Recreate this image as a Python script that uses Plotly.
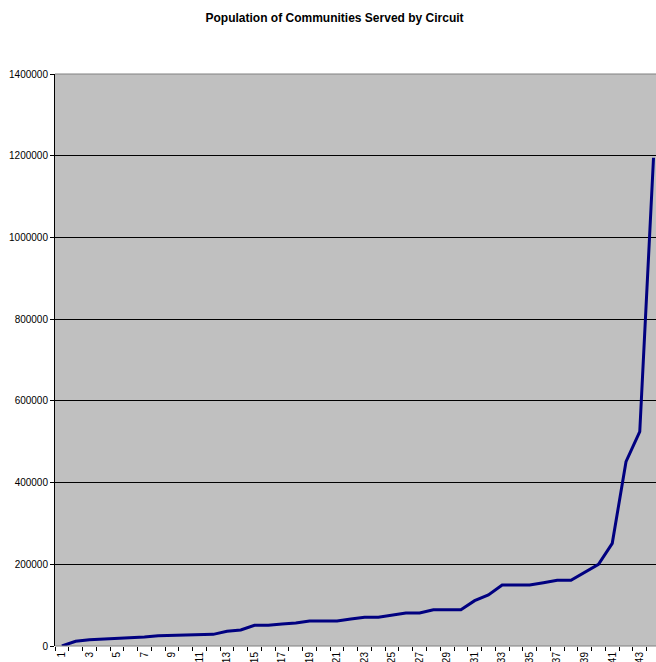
import plotly.graph_objects as go

circuits = list(range(1, 45))
population = [0, 11400, 15500, 17100, 17100, 20400, 22000, 25300, 26000, 28000,
              28500, 28500, 35900, 39200, 50600, 50600, 53900, 56300, 61200, 61200,
              61200, 66000, 70200, 70200, 75500, 80800, 80800, 88900, 88900, 88900,
              110900, 124800, 149300, 149300, 149300, 155000, 160800, 160800, 179500, 200000,
              251300, 451000, 524500, 1195000]
x_tick_vals = list(range(1, 45, 2))
y_tick_vals = list(range(0, 1400001, 200000))

fig = go.Figure()
fig.add_trace(go.Scatter(x=circuits, y=population, mode="lines",
                         line=dict(color="#000080", width=3), cliponaxis=True))

fig.update_layout(
    width=656, height=662,
    margin=dict(l=55, r=0, t=74, b=16),
    paper_bgcolor="white", plot_bgcolor="#C0C0C0",
    font=dict(family="Liberation Sans, Arial", size=10, color="black"),
    showlegend=False,
    title=dict(text="<b>Population of Communities Served by Circuit</b>",
               x=0.51, xanchor="center", y=0.973, yanchor="middle",
               font=dict(size=12, family="Liberation Sans, Arial")),
    xaxis=dict(range=[0.5, 44.18], tickvals=x_tick_vals, ticktext=[str(v) for v in x_tick_vals],
               tickangle=-90, ticks="", showgrid=False, zeroline=False,
               showline=False, automargin=False, ticklabelstandoff=3,
               minor=dict(tick0=0.5, dtick=1, ticks="outside", ticklen=4,
                          tickcolor="black", showgrid=False)),
    yaxis=dict(range=[0, 1400000], tickvals=y_tick_vals, ticktext=[str(v) for v in y_tick_vals],
               ticks="outside", ticklen=4, tickcolor="black", showgrid=True,
               gridcolor="black", gridwidth=1, zeroline=False, showline=True,
               linecolor="black", linewidth=1, automargin=False),
)
fig.add_shape(type="line", xref="paper", yref="paper", x0=0, x1=1, y0=0, y1=0,
              line=dict(color="#808080", width=1))
fig.add_shape(type="line", xref="paper", yref="paper", x0=0, x1=1, y0=1, y1=1,
              line=dict(color="#808080", width=1))
fig.write_html("out.html")
